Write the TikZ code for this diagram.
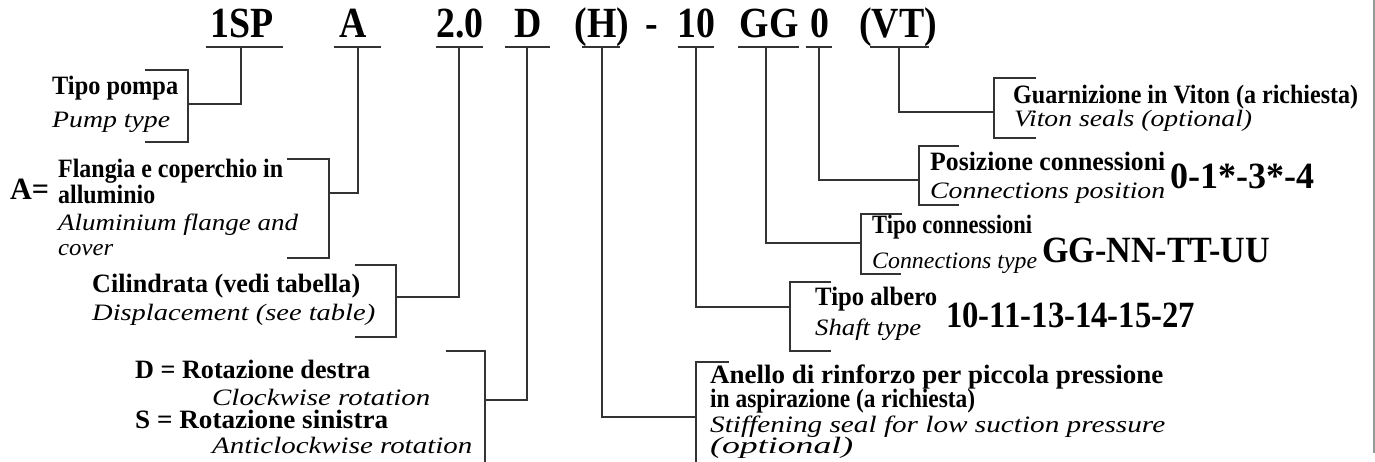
\documentclass[tikz,border=0pt]{standalone}
\usepackage{fontspec}
\setmainfont{Liberation Serif}
\usepackage{graphicx}
\newsavebox\fitbox
\newlength\fitlen
\newcommand\fitw[2]{\sbox\fitbox{#2}\setlength\fitlen{\wd\fitbox}\pgfmathsetmacro\fitsx{#1/\fitlen}\scalebox{\fitsx}[1]{\usebox\fitbox}}
\newcommand\labB{\bfseries\fontsize{26.5}{26.5}\selectfont}
\newcommand\labI{\itshape\fontsize{23.5}{23.5}\selectfont}
\newcommand\codeF{\bfseries\fontsize{43}{43}\selectfont}
\newcommand\numF{\bfseries\fontsize{37}{37}\selectfont}
\begin{document}
\begin{tikzpicture}[x=1pt,y=-1pt,
  lab/.style={inner sep=0pt,anchor=base west},
  code/.style={inner sep=0pt,anchor=base,font=\codeF},
  ln/.style={line width=1.2pt,draw=black!80,line cap=rect}]
\useasboundingbox (0,0) rectangle (1375,461);
% ---- codes
\node[code] (c1) at (242,37) {\scalebox{0.88}[1]{1SP}};
\node[code] (c2) at (353,37) {\scalebox{0.88}[1]{A}};
\node[code] (c3) at (460,37) {\scalebox{0.88}[1]{2.0}};
\node[code] (c4) at (528,37) {\scalebox{0.88}[1]{D}};
\node[code] (c5) at (602,37) {\scalebox{0.88}[1]{(H)}};
\node[code] (c6) at (652,37) {\scalebox{0.88}[1]{-}};
\node[code] (c7) at (696,37) {\scalebox{0.88}[1]{10}};
\node[code] (c8) at (769,37) {\scalebox{0.88}[1]{GG}};
\node[code] (c9) at (820,37) {\scalebox{0.88}[1]{0}};
\node[code] (c10) at (898,37) {\scalebox{0.88}[1]{(VT)}};
% ---- underlines
\foreach \n/\a/\b in {1/207/282,2/335/380,3/437/482,4/506/549,5/583/619,7/679/713,8/739/798,9/807/831,10/871/928}{
  \coordinate (ua\n) at (\a,47); \coordinate (ub\n) at (\b,47);
  \draw[ln] (ua\n) -- (ub\n);}
% ---- 1SP
\coordinate (v1) at (241,47); \coordinate (h1) at (188,104);
\coordinate (k1t) at (146,70); \coordinate (k1b) at (146,142);
\draw[ln] (v1) |- (h1);
\draw[ln] (k1t) -| (h1) |- (k1b);
% ---- A
\coordinate (v2) at (358,47); \coordinate (h2) at (329,193);
\coordinate (k2t) at (288,159); \coordinate (k2b) at (288,258);
\draw[ln] (v2) |- (h2);
\draw[ln] (k2t) -| (h2) |- (k2b);
% ---- 2.0
\coordinate (v3) at (459,47); \coordinate (h3) at (396,297);
\coordinate (k3t) at (356,265); \coordinate (k3b) at (356,337);
\draw[ln] (v3) |- (h3);
\draw[ln] (k3t) -| (h3) |- (k3b);
% ---- D
\coordinate (v4) at (527,47); \coordinate (h4) at (485,400);
\coordinate (k4t) at (447,351); \coordinate (k4b) at (485,461);
\draw[ln] (v4) |- (h4);
\draw[ln] (k4t) -| (h4) -- (k4b);
% ---- (H)
\coordinate (v5) at (602,47); \coordinate (h5) at (696,417);
\coordinate (k5t) at (728,362); \coordinate (k5b) at (696,461);
\draw[ln] (v5) |- (h5);
\draw[ln] (k5t) -| (h5) -- (k5b);
% ---- 10
\coordinate (v7) at (696,47); \coordinate (h7) at (790,307);
\coordinate (k7t) at (830,282); \coordinate (k7b) at (830,351);
\draw[ln] (v7) |- (h7);
\draw[ln] (k7t) -| (h7) |- (k7b);
% ---- GG
\coordinate (v8) at (766,47); \coordinate (h8) at (861,243);
\coordinate (k8t) at (901,214); \coordinate (k8b) at (900,274);
\draw[ln] (v8) |- (h8);
\draw[ln] (k8t) -| (h8) |- (k8b);
% ---- 0
\coordinate (v9) at (819,47); \coordinate (h9) at (919,180);
\coordinate (k9t) at (958,146); \coordinate (k9b) at (958,205);
\draw[ln] (v9) |- (h9);
\draw[ln] (k9t) -| (h9) |- (k9b);
% ---- (VT)
\coordinate (v10) at (899,47); \coordinate (h10) at (994,112);
\coordinate (k10t) at (1035,78); \coordinate (k10b) at (1035,138);
\draw[ln] (v10) |- (h10);
\draw[ln] (k10t) -| (h10) |- (k10b);
% ---- right border
\coordinate (r1) at (1374,0); \coordinate (r2) at (1374,453);
\draw[line width=1.2pt,draw=black!40] (r1) -- (r2);
% ---- labels left
\node[lab] (t1a) at (52,94) {\labB\fitw{126}{Tipo pompa}};
\node[lab] (t1b) at (52,127) {\labI\fitw{118}{Pump type}};
\node[lab] (t2eq) at (10,199) {\bfseries\fontsize{31}{31}\selectfont\fitw{39}{A=}};
\node[lab] (t2a) at (58,177) {\labB\fitw{225}{Flangia e coperchio in}};
\node[lab] (t2b) at (58,203) {\labB\fitw{97}{alluminio}};
\node[lab] (t2c) at (58,230) {\labI\fitw{240}{Aluminium flange and}};
\node[lab] (t2d) at (58,255) {\labI\fitw{55}{cover}};
\node[lab] (t3a) at (92,292) {\labB\fitw{268}{Cilindrata (vedi tabella)}};
\node[lab] (t3b) at (92,320) {\labI\fitw{283}{Displacement (see table)}};
\node[lab] (t4a) at (135,378) {\labB\fitw{235}{D = Rotazione destra}};
\node[lab] (t4b) at (212,405) {\labI\fitw{218}{Clockwise rotation}};
\node[lab] (t4c) at (135,428) {\labB\fitw{253}{S = Rotazione sinistra}};
\node[lab] (t4d) at (212,453) {\labI\fitw{260}{Anticlockwise rotation}};
% ---- labels right
\node[lab] (t10a) at (1013,103) {\labB\fitw{345}{Guarnizione in Viton (a richiesta)}};
\node[lab] (t10b) at (1014,126) {\labI\fitw{238}{Viton seals (optional)}};
\node[lab] (t9a) at (930,170) {\labB\fitw{235}{Posizione connessioni}};
\node[lab] (t9b) at (930,198) {\labI\fitw{235}{Connections position}};
\node[lab] (t9c) at (1170,188) {\numF\fitw{144}{0-1*-3*-4}};
\node[lab] (t8a) at (872,233) {\labB\fitw{160}{Tipo connessioni}};
\node[lab] (t8b) at (872,268) {\labI\fitw{165}{Connections type}};
\node[lab] (t8c) at (1042,262) {\numF\fitw{228}{GG-NN-TT-UU}};
\node[lab] (t7a) at (815,305) {\labB\fitw{122}{Tipo albero}};
\node[lab] (t7b) at (815,335) {\labI\fitw{106}{Shaft type}};
\node[lab] (t7c) at (946,327) {\numF\fitw{249}{10-11-13-14-15-27}};
\node[lab] (t5a) at (710,383) {\labB\fitw{453}{Anello di rinforzo per piccola pressione}};
\node[lab] (t5b) at (710,407) {\labB\fitw{265}{in aspirazione (a richiesta)}};
\node[lab] (t5c) at (710,432) {\labI\fitw{455}{Stiffening seal for low suction pressure}};
\node[lab] (t5d) at (710,453) {\labI\fitw{143}{(optional)}};
\end{tikzpicture}
\end{document}
